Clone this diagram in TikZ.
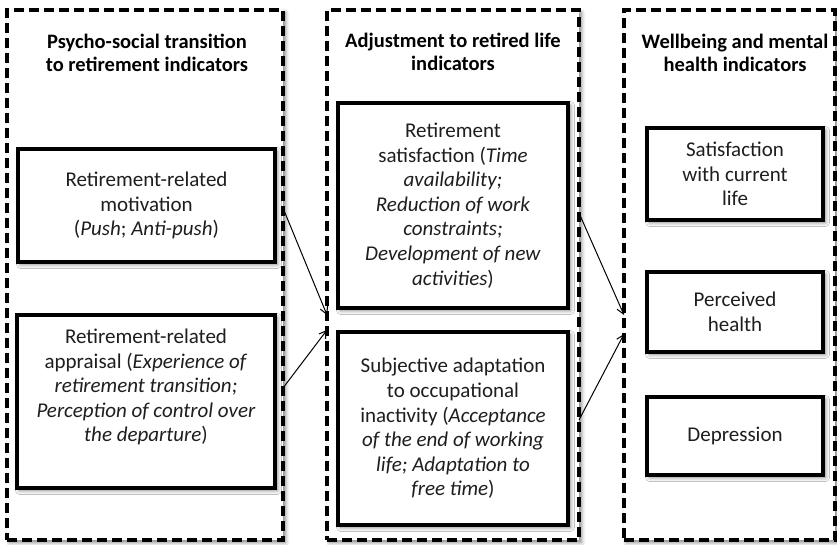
\documentclass[tikz,border=0pt]{standalone}
\usepackage{fontspec}
\setmainfont{Carlito}
\usepackage{tikz}
\usetikzlibrary{arrows.meta,positioning,shadows.blur}
\definecolor{ink}{HTML}{1E1E1E}

\begin{document}
\begin{tikzpicture}[x=1pt,y=-1pt,
    soft/.style={blur shadow={shadow xshift=2.5pt,shadow yshift=-2.5pt,shadow blur radius=4pt,shadow opacity=50}},
    panel/.style={draw=black,fill=white,line width=3.4pt,dash pattern=on 10pt off 5pt,
      minimum height=530pt,inner sep=0pt,outer sep=0pt,soft},
    box/.style={draw=black,fill=white,line width=3.6pt,inner sep=0pt,outer sep=0pt,soft,
      align=center,text=ink,font=\fontsize{21}{24.6}\selectfont},
    title/.style={align=center,text=black,font=\fontsize{20.5}{23.5}\selectfont\bfseries},
    arr/.style={-{Straight Barb[length=7pt,width=8pt]},line width=1pt}]
  \useasboundingbox (0,0) rectangle (837,545);
  % three dashed columns
  \foreach \n/\x/\w in {p1/145/276,p2/453/252,p3/729.5/211}
    \node[panel,minimum width=\w] (\n) at (\x,275) {};
  \node[title] (t1) at (147,53) {Psycho-social transition\\to retirement indicators};
  \node[title] (t2) at (453,52) {Adjustment to retired life\\indicators};
  \node[title] (t3) at (735,53) {Wellbeing and mental\\health indicators};
  % column 1: transition
  \node[box,minimum width=257,minimum height=113] (m1) at (146.5,205.5)
    {Retirement-related\\motivation\\(\textit{Push}; \textit{Anti-push})};
  \node[box,minimum width=258,minimum height=173,text depth=32pt] (a2) at (146,401.5)
    {Retirement-related\\appraisal (\textit{Experience of}\\\textit{retirement transition;}\\\textit{Perception of control over}\\\textit{the departure})};
  % column 2: adjustment
  \node[box,minimum width=230,minimum height=205] (s1) at (453,205.5)
    {Retirement\\satisfaction (\textit{Time}\\\textit{availability;}\\\textit{Reduction of work}\\\textit{constraints;}\\\textit{Development of new}\\\textit{activities})};
  \node[box,minimum width=230,minimum height=193] (s2) at (453,428.5)
    {Subjective adaptation\\to occupational\\inactivity (\textit{Acceptance}\\\textit{of the end of working}\\\textit{life; Adaptation to}\\\textit{free time})};
  % column 3: wellbeing
  \node[box,minimum width=176,minimum height=92] (w1) at (735,174) {Satisfaction\\with current\\life};
  \node[box,minimum width=176,minimum height=80] (w2) at (735,312) {Perceived\\health};
  \node[box,minimum width=176,minimum height=78] (w3) at (735,436) {Depression};
  % arrows between columns
  \draw[arr] ([yshift=67pt]p1.east) -- ([yshift=-40pt]p2.west);
  \draw[arr] ([yshift=-113pt]p1.east) -- ([yshift=-55pt]p2.west);
  \draw[arr] ([yshift=62pt]p2.east) -- ([yshift=-40pt]p3.west);
  \draw[arr] ([yshift=-145pt]p2.east) -- ([yshift=-59pt]p3.west);
\end{tikzpicture}
\end{document}
